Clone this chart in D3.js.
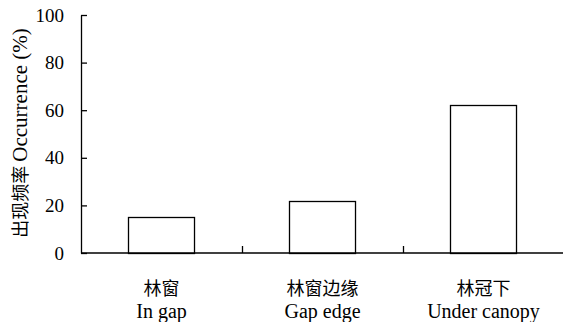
<!DOCTYPE html>
<html>
<head>
<meta charset="utf-8">
<script src="https://cdn.jsdelivr.net/npm/d3@7/dist/d3.min.js"></script>
<style>
  html, body { margin: 0; padding: 0; background: #fff; }
  svg { display: block; }
</style>
</head>
<body>
<svg id="chart" width="563" height="322"></svg>
<script>
// Occurrence by microsite
const categoriesZh = ["林窗", "林窗边缘", "林冠下"];
const categoriesEn = ["In gap", "Gap edge", "Under canopy"];
const occurrence = [15, 22, 62];
const yTicks = [0, 20, 40, 60, 80, 100];

const SERIF = '"Liberation Serif"';
const CJK = '"Noto Sans CJK SC"';

const svg = d3.select("#chart");
const plotLeft = 81, plotRight = 564, plotTop = 15, plotBottom = 253;

const x = d3.scaleBand().domain(categoriesEn).range([plotLeft, plotRight]).paddingInner(0.59).paddingOuter(0.295);
const xb = d3.scaleBand().domain(categoriesEn).range([plotLeft, plotRight]);
const y = d3.scaleLinear().domain([0, 100]).range([plotBottom, plotTop]);

// bars
svg.append("g").selectAll("rect").data(occurrence).join("rect")
  .attr("x", (d, i) => Math.round(x(categoriesEn[i])) + 0.5)
  .attr("y", d => Math.round(y(d)) + 0.5)
  .attr("width", x.bandwidth())
  .attr("height", d => Math.round(y(0)) - Math.round(y(d)))
  .attr("fill", "#fff")
  .attr("stroke", "#000")
  .attr("stroke-width", 1.3);

// y axis
const yAxis = d3.axisLeft(y).tickValues(yTicks).tickSizeInner(-6).tickSizeOuter(0).tickPadding(17);
const gy = svg.append("g").attr("transform", `translate(${plotLeft},0)`).call(yAxis)
  .attr("font-family", null).attr("font-size", null);
gy.select(".domain").attr("stroke-width", 1.3);
gy.selectAll(".tick line").attr("stroke-width", 1.3);
gy.selectAll("text").style("font-family", SERIF).style("font-size", "19px").attr("fill", "#000");

// x axis: ticks between categories, pointing up
const boundaries = categoriesEn.slice(1).map(c => xb(c));
svg.append("line")
  .attr("x1", plotLeft).attr("x2", plotRight).attr("y1", plotBottom).attr("y2", plotBottom)
  .attr("stroke", "#000").attr("stroke-width", 1.3);
svg.append("g").selectAll("line").data(boundaries).join("line")
  .attr("x1", d => Math.round(d) + 0.5).attr("x2", d => Math.round(d) + 0.5)
  .attr("y1", plotBottom).attr("y2", plotBottom - 7)
  .attr("stroke", "#000").attr("stroke-width", 1.3);

// category labels
const lab = svg.append("g");
lab.selectAll("text.zh").data(categoriesZh).join("text")
  .attr("class", "zh")
  .attr("x", (d, i) => xb(categoriesEn[i]) + xb.bandwidth() / 2)
  .attr("y", 295)
  .attr("text-anchor", "middle")
  .style("font-family", CJK).style("font-size", "18px").attr("fill", "#000")
  .text(d => d);
lab.selectAll("text.en").data(categoriesEn).join("text")
  .attr("class", "en")
  .attr("x", d => xb(d) + xb.bandwidth() / 2)
  .attr("y", 318)
  .attr("text-anchor", "middle")
  .style("font-family", SERIF).style("font-size", "20px").attr("fill", "#000")
  .text(d => d);

// y axis title
const title = svg.append("text")
  .attr("transform", "translate(27,133) rotate(-90)")
  .attr("text-anchor", "middle")
  .attr("fill", "#000");
title.append("tspan").style("font-family", CJK).style("font-size", "18px").text("出现频率 ");
title.append("tspan").style("font-family", SERIF).style("font-size", "21px").text("Occurrence (%)");
</script>
</body>
</html>
